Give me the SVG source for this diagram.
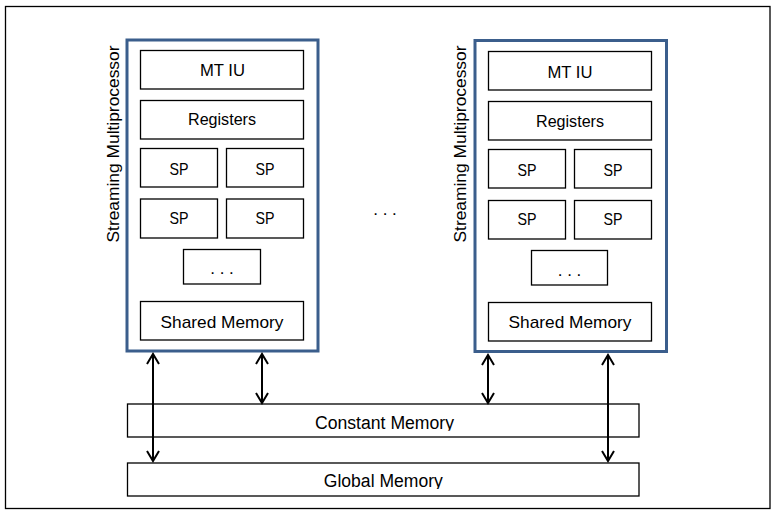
<svg xmlns="http://www.w3.org/2000/svg" width="774" height="513" viewBox="0 0 774 513">
<defs>
<style>
.frame{fill:#fff;stroke:#000;stroke-width:1.3}
.sm{fill:#fff;stroke:#3B5E8C;stroke-width:3}
.box{fill:#fff;stroke:#000;stroke-width:1.3}
.t{font-family:"Liberation Sans",Arial,sans-serif;font-size:17px;fill:#000;text-anchor:middle}
.m{font-family:"Liberation Sans",Arial,sans-serif;font-size:18px;fill:#000;text-anchor:middle}
.vt{font-family:"Liberation Sans",Arial,sans-serif;font-size:17px;fill:#000;text-anchor:middle}
.conn{stroke:#000;stroke-width:2;fill:none;marker-start:url(#ah);marker-end:url(#ah)}
</style>
<marker id="ah" markerUnits="userSpaceOnUse" markerWidth="16" markerHeight="16" viewBox="-12 -8 14 16" refX="0" refY="0" orient="auto-start-reverse">
<path d="M-10,-6 L0,0 L-10,6" fill="none" stroke="#000" stroke-width="2"/>
</marker>
<clipPath id="clipC"><rect x="127" y="404" width="512" height="26.8"/></clipPath>
<clipPath id="clipG"><rect x="127" y="463" width="512" height="26"/></clipPath>
</defs>
<rect class="frame" x="5.5" y="6.5" width="764.5" height="502"/>

<g id="sm1">
<rect class="sm" x="127" y="40" width="191" height="311"/>
<text class="vt" transform="translate(118.5,144) rotate(-90)" textLength="197" lengthAdjust="spacingAndGlyphs">Streaming Multiprocessor</text>
</g>
<g id="sm1-mtiu"><rect class="box" x="140.5" y="50.5" width="163" height="38.5"/><text class="t" x="222.5" y="75.7" textLength="45" lengthAdjust="spacingAndGlyphs">MT IU</text></g>
<g id="sm1-reg"><rect class="box" x="140.5" y="100.5" width="163" height="38.5"/><text class="t" x="222" y="125" textLength="68" lengthAdjust="spacingAndGlyphs">Registers</text></g>
<g id="sm1-sp1"><rect class="box" x="140.5" y="148.5" width="77" height="38.5"/><text class="t" x="179" y="175" textLength="19" lengthAdjust="spacingAndGlyphs">SP</text></g>
<g id="sm1-sp2"><rect class="box" x="226.5" y="148.5" width="77" height="38.5"/><text class="t" x="265" y="175" textLength="19" lengthAdjust="spacingAndGlyphs">SP</text></g>
<g id="sm1-sp3"><rect class="box" x="140.5" y="199" width="77" height="39"/><text class="t" x="179" y="224" textLength="19" lengthAdjust="spacingAndGlyphs">SP</text></g>
<g id="sm1-sp4"><rect class="box" x="226.5" y="199" width="77" height="39"/><text class="t" x="265" y="224" textLength="19" lengthAdjust="spacingAndGlyphs">SP</text></g>
<g id="sm1-dots"><rect class="box" x="183.5" y="249.5" width="77" height="34.5"/><text class="t" x="222" y="274.3">. . .</text></g>
<g id="sm1-shared"><rect class="box" x="140.5" y="301.5" width="163" height="38.5"/><text class="t" x="222" y="327.7" textLength="123" lengthAdjust="spacingAndGlyphs">Shared Memory</text></g>

<g id="sm2">
<rect class="sm" x="475" y="40.5" width="191.5" height="311"/>
<text class="vt" transform="translate(466,144) rotate(-90)" textLength="197" lengthAdjust="spacingAndGlyphs">Streaming Multiprocessor</text>
</g>
<g id="sm2-mtiu"><rect class="box" x="488.5" y="51.5" width="163" height="38.5"/><text class="t" x="570" y="77.5" textLength="45" lengthAdjust="spacingAndGlyphs">MT IU</text></g>
<g id="sm2-reg"><rect class="box" x="488.5" y="101.5" width="163" height="38.5"/><text class="t" x="570" y="127" textLength="68" lengthAdjust="spacingAndGlyphs">Registers</text></g>
<g id="sm2-sp1"><rect class="box" x="488.5" y="149.5" width="77" height="38.5"/><text class="t" x="527" y="175.7" textLength="19" lengthAdjust="spacingAndGlyphs">SP</text></g>
<g id="sm2-sp2"><rect class="box" x="574.5" y="149.5" width="77" height="38.5"/><text class="t" x="613" y="175.7" textLength="19" lengthAdjust="spacingAndGlyphs">SP</text></g>
<g id="sm2-sp3"><rect class="box" x="488.5" y="200.5" width="77" height="38.5"/><text class="t" x="527" y="224.7" textLength="19" lengthAdjust="spacingAndGlyphs">SP</text></g>
<g id="sm2-sp4"><rect class="box" x="574.5" y="200.5" width="77" height="38.5"/><text class="t" x="613" y="224.7" textLength="19" lengthAdjust="spacingAndGlyphs">SP</text></g>
<g id="sm2-dots"><rect class="box" x="531.5" y="250.5" width="76" height="34.5"/><text class="t" x="569.5" y="275.7">. . .</text></g>
<g id="sm2-shared"><rect class="box" x="488.5" y="302.5" width="163" height="38.5"/><text class="t" x="570" y="328.3" textLength="123" lengthAdjust="spacingAndGlyphs">Shared Memory</text></g>

<g id="ellipsis"><text class="t" x="385" y="215">. . .</text></g>

<g id="constant"><rect class="box" x="127.5" y="404" width="511.5" height="33"/><text class="m" x="384.5" y="429.3" clip-path="url(#clipC)" textLength="139" lengthAdjust="spacingAndGlyphs">Constant Memory</text></g>
<g id="global"><rect class="box" x="127.5" y="463" width="511.5" height="33"/><text class="m" x="383.3" y="487" clip-path="url(#clipG)" textLength="119" lengthAdjust="spacingAndGlyphs">Global Memory</text></g>

<g id="connectors">
<line class="conn" x1="153" y1="354" x2="153" y2="461"/>
<line class="conn" x1="262" y1="354" x2="262" y2="403"/>
<line class="conn" x1="488" y1="355" x2="488" y2="403"/>
<line class="conn" x1="608" y1="355" x2="608" y2="461"/>
</g>
</svg>
